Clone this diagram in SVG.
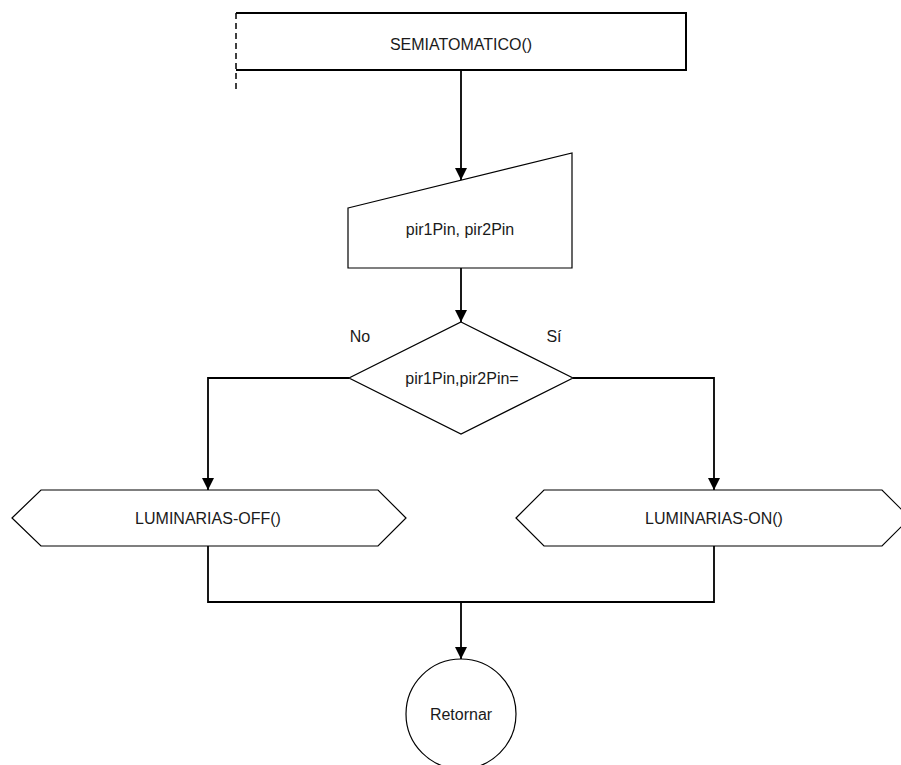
<svg xmlns="http://www.w3.org/2000/svg" width="901" height="765" viewBox="0 0 901 765">
<style>
.shape{fill:#fff;stroke:#000;stroke-width:1.2}
.conn{fill:none;stroke:#000;stroke-width:1.8}
.t{font-family:"Liberation Sans",Arial,sans-serif;font-size:16px;fill:#1a1a1a;text-anchor:middle}
</style>
<defs>
<marker id="arr" viewBox="0 0 12 12" refX="12" refY="6" markerWidth="13" markerHeight="12" markerUnits="userSpaceOnUse" orient="auto">
<path d="M0,0 L12,6 L0,12 z" fill="#000"/>
</marker>
</defs>
<rect width="901" height="765" fill="#fff"/>
<g id="connectors">
<line class="conn" x1="461" y1="70" x2="461" y2="180" marker-end="url(#arr)"/>
<line class="conn" x1="461" y1="268" x2="461" y2="322" marker-end="url(#arr)"/>
<polyline class="conn" points="349,378 208,378 208,490" marker-end="url(#arr)"/>
<polyline class="conn" points="573,378 714,378 714,490" marker-end="url(#arr)"/>
<polyline class="conn" points="208,546 208,602 714,602 714,546"/>
<line class="conn" x1="461" y1="602" x2="461" y2="659" marker-end="url(#arr)"/>
</g>
<g id="start">
<path d="M236,13 H686 V70 H236" fill="#fff" stroke="#000" stroke-width="2"/>
<line x1="236" y1="13" x2="236" y2="93" stroke="#000" stroke-width="1.5" stroke-dasharray="6,4"/>
<text class="t" x="461" y="50">SEMIATOMATICO()</text>
</g>
<g id="input">
<polygon class="shape" points="348,208 572,153 572,268 348,268"/>
<text class="t" x="460" y="235">pir1Pin, pir2Pin</text>
</g>
<g id="decision">
<polygon class="shape" points="461,322 573,378 461,434 349,378"/>
<text class="t" x="462" y="384">pir1Pin,pir2Pin=</text>
<text class="t" x="360" y="342">No</text>
<text class="t" x="554" y="342">Sí</text>
</g>
<g id="off">
<polygon class="shape" points="12,518 41,490 378,490 406,518 378,546 41,546"/>
<text class="t" x="208" y="524">LUMINARIAS-OFF()</text>
</g>
<g id="on">
<polygon class="shape" points="516,518 544,490 882,490 910,518 882,546 544,546"/>
<text class="t" x="714" y="524">LUMINARIAS-ON()</text>
</g>
<g id="end">
<circle class="shape" cx="461" cy="714" r="55"/>
<text class="t" x="461" y="720">Retornar</text>
</g>
</svg>
